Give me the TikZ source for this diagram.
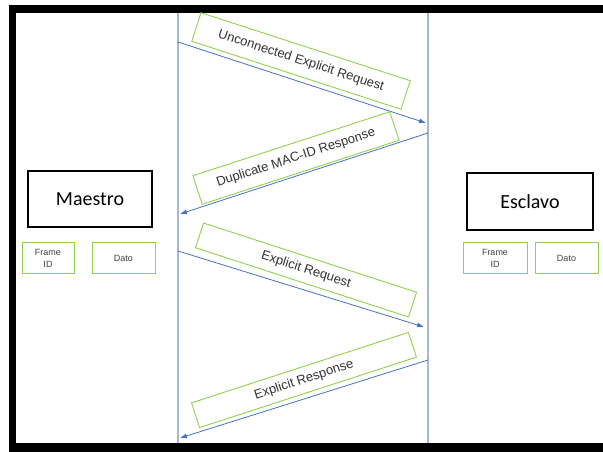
\documentclass[tikz,border=0pt]{standalone}
\usepackage{fontspec}
\setmainfont{Liberation Sans}
\newfontfamily\titlefont{Carlito}
\usetikzlibrary{arrows.meta}
\definecolor{boxgreen}{HTML}{92D050}
\definecolor{msgblue}{HTML}{4472C4}
\definecolor{lifeline}{HTML}{A9B6D6}
\tikzset{
  lblbox/.style={draw=boxgreen, line width=0.9pt, inner sep=0pt, font=\fontsize{13}{15}\selectfont, text=black!80},
  fieldbox/.style={draw=boxgreen, line width=1pt, inner sep=0pt, minimum height=31pt, align=center, font=\fontsize{9}{11.5}\selectfont, text=black!75},
  rolebox/.style={draw=black, line width=1.6pt, inner sep=0pt, minimum height=56pt, font=\titlefont\fontsize{20}{24}\selectfont},
  msg/.style={draw=msgblue, line width=0.8pt, -{Latex[length=7pt,width=5pt]}},
  lline/.style={draw=lifeline, line width=1.2pt}
}
\begin{document}
\begin{tikzpicture}[x=1pt,y=1pt]
\useasboundingbox (0,0) rectangle (603,452);
% frame
\fill[black] (8.5,439.3) rectangle (610,447.3);
\fill[black] (8.5,0) rectangle (16,447.3);
\fill[black] (8.5,-5) rectangle (610,9);
% lifelines
\coordinate (lt) at (178,439.3);
\coordinate (lb) at (178,9);
\coordinate (rt) at (428,439.3);
\coordinate (rb) at (428,9);
\draw[lline] (lt) -- (lb);
\draw[lline] (rt) -- (rb);
% messages
\coordinate (a1s) at (178,410);
\coordinate (a1e) at (426,329);
\coordinate (a2s) at (428,319);
\coordinate (a2e) at (180,238);
\coordinate (a3s) at (178,201);
\coordinate (a3e) at (424,125);
\coordinate (a4s) at (428,92);
\coordinate (a4e) at (180,14);
\draw[msg] (a1s) -- (a1e);
\draw[msg] (a2s) -- (a2e);
\draw[msg] (a3s) -- (a3e);
\draw[msg] (a4s) -- (a4e);
% labels
\node[lblbox, rotate=-18, minimum width=220pt, minimum height=30pt] (b1) at (301,391) {Unconnected Explicit Request};
\node[lblbox, rotate=18, minimum width=207pt, minimum height=30pt] (b2) at (296,294) {Duplicate MAC-ID Response};
\node[lblbox, rotate=-18, minimum width=224pt, minimum height=26pt] (b3) at (306,182) {Explicit Request};
\node[lblbox, rotate=18, minimum width=228pt, minimum height=26pt] (b4) at (304,72) {Explicit Response};
% roles
\node[rolebox, minimum width=124pt] (maestro) at (90,253) {Maestro};
\node[fieldbox, minimum width=52pt] (fidl) at (48,193.5) {Frame\\ID};
\node[fieldbox, minimum width=63pt] (datol) at (123.5,193.5) {Dato};
\node[rolebox, minimum width=126pt, minimum height=57pt] (esclavo) at (530,250.5) {Esclavo};
\node[fieldbox, minimum width=64pt] (fidr) at (495,193.5) {Frame\\ID};
\node[fieldbox, minimum width=63pt] (dator) at (566.5,193.5) {Dato};
\end{tikzpicture}
\end{document}
